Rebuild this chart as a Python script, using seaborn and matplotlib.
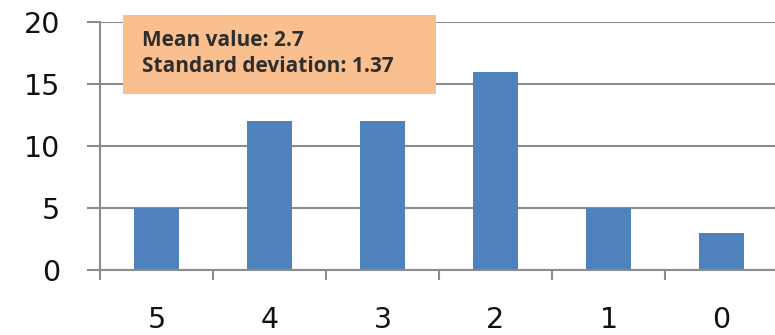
import matplotlib
matplotlib.use("Agg")
import matplotlib.pyplot as plt
import seaborn as sns
import pandas as pd
from matplotlib.ticker import FixedLocator, NullFormatter

# Score distribution
scores = ["5", "4", "3", "2", "1", "0"]
counts = [5, 12, 12, 16, 5, 3]
y_ticks = [0, 5, 10, 15, 20]
summary_lines = ["Mean value: 2.7", "Standard deviation: 1.37"]

df = pd.DataFrame({"score": scores, "count": counts})

sns.set_style("white")
plt.rcParams["font.family"] = ["DejaVu Sans"]

W, H = 775, 335
fig = plt.figure(figsize=(W / 100, H / 100), dpi=100)
ax = fig.add_axes([100 / W, (H - 270) / H, 678 / W, 248 / H])

sns.barplot(data=df, x="score", y="count", order=scores, color="#4F81BD",
            width=0.4, saturation=1, linewidth=0, ax=ax)

grid_c = "#8C8C8C"
ax.set_ylim(0, 20)
ax.set_xlim(-0.5, len(scores) - 0.5)
ax.set_yticks(y_ticks)
ax.yaxis.grid(True, color=grid_c, linewidth=1.5)
ax.set_axisbelow(True)

for s in ["top", "right"]:
    ax.spines[s].set_visible(False)
for s in ["left", "bottom"]:
    ax.spines[s].set_color(grid_c)
    ax.spines[s].set_linewidth(1.5)

# category boundaries get tick marks, centres get labels
n = len(scores)
ax.xaxis.set_major_locator(FixedLocator([i - 0.5 for i in range(n + 1)]))
ax.xaxis.set_major_formatter(NullFormatter())
ax.xaxis.set_minor_locator(FixedLocator(list(range(n))))
ax.set_xticklabels(scores, minor=True)
ax.tick_params(axis="x", which="major", direction="out", length=7,
               width=1.5, color=grid_c, bottom=True)
ax.tick_params(axis="x", which="minor", length=0, pad=26,
               labelsize=20.5, labelcolor="#111111")
ax.tick_params(axis="y", direction="out", length=9.5, width=1.5,
               color=grid_c, left=True, pad=19, labelsize=20.5,
               labelcolor="#111111")
ax.set_xlabel("")
ax.set_ylabel("")

# summary box
fig.patches.append(plt.Rectangle((123 / W, 1 - 94 / H), 313 / W, 79 / H,
                                 transform=fig.transFigure,
                                 facecolor="#F9BF8F", edgecolor="none",
                                 zorder=5))
for i, line in enumerate(summary_lines):
    fig.text(142 / W, 1 - (40 + 27 * i) / H, line, fontsize=15,
             fontweight="bold", family=["Open Sans", "DejaVu Sans"],
             color="#2E2E2E", va="center", ha="left", zorder=6)

fig.savefig("out.png", dpi=100)
